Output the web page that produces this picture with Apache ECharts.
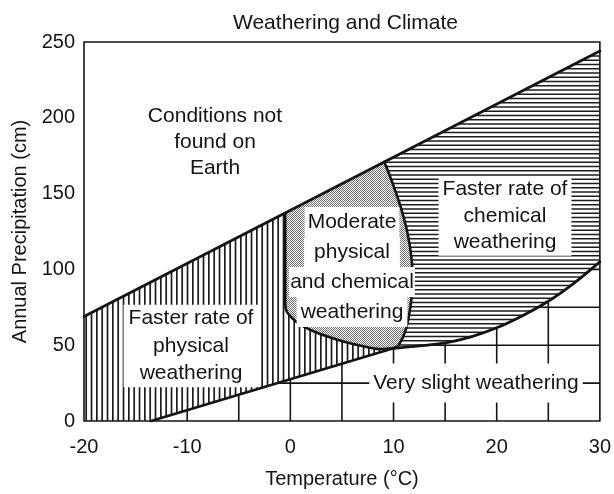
<!DOCTYPE html>
<html>
<head>
<meta charset="utf-8">
<script src="https://cdn.jsdelivr.net/npm/echarts@6/dist/echarts.min.js"></script>
<style>
  html, body { margin: 0; padding: 0; background: #fff; }
  #chart { width: 614px; height: 494px; }
</style>
</head>
<body>
<div id="chart"></div>
<script>
// Weathering regimes as a function of temperature (°C) and annual precipitation (cm)

const xTicks = [-20, -10, 0, 10, 20, 30];
const yTicks = [0, 50, 100, 150, 200, 250];

// Upper limit of climates found on Earth (a straight line)
const upperLimit = [[-20, 69], [30, 244]];
// Lower limit of appreciable weathering: straight segment, then a rising curve
const lowerLimit = [[-13.5, 0], [10, 48], [12.5, 49.5], [15, 51.5], [17.5, 55.5],
                    [20, 61.5], [22.5, 69.5], [25, 79], [27.5, 91], [30, 105]];
// Left / lower edge of the moderate zone, from the upper limit down to the lower limit
const moderateLeft = [[-0.5, 137], [-0.5, 76], [-0.3, 71.5], [0.65, 65], [2.3, 59],
                      [3.8, 55.3], [5.4, 52], [7.1, 49.3], [8.6, 47.5], [10, 48]];
// Right edge of the moderate zone, from the upper limit down to the lower limit
const moderateRight = [[9.1, 171], [9.9, 157], [10.7, 141], [11.35, 124], [11.75, 107],
                       [11.85, 91], [11.65, 76], [11.2, 60.5], [10.5, 50], [10, 48]];
// Reference grid drawn inside the "very slight weathering" zone
const gridX = [-10, -5, 0, 5, 10, 15, 20, 25];
const gridY = [25, 50, 75, 100];

const FONT = "'Liberation Sans', Arial, Helvetica, sans-serif";
const INK = '#141414';

// ---- fill patterns ----
function makeTile(w, h, draw) {
  const c = document.createElement('canvas');
  c.width = w; c.height = h;
  const g = c.getContext('2d');
  g.fillStyle = '#fff';
  g.fillRect(0, 0, w, h);
  draw(g);
  return c;
}
const vHatch = makeTile(16, 8, g => {
  g.fillStyle = '#1c1c1c';
  [0, 5.33, 10.67].forEach(x => g.fillRect(x, 0, 1.7, 8));
});
const hHatch = makeTile(8, 17, g => {
  g.fillStyle = '#1c1c1c';
  [0, 4.25, 8.5, 12.75].forEach(y => g.fillRect(0, y, 8, 1.5));
});
const stipple = makeTile(2, 2, g => {
  g.fillStyle = '#6e6e6e';
  g.fillRect(0, 0, 1, 1);
  g.fillRect(1, 1, 1, 1);
});

// ---- region outlines built from the boundary arrays ----
const xMin = xTicks[0], xMax = xTicks[xTicks.length - 1];
const yMin = yTicks[0], yMax = yTicks[yTicks.length - 1];

const physicalZone = [[xMin, yMin], upperLimit[0]]
  .concat(moderateLeft)
  .concat([lowerLimit[0]]);
const moderateZone = moderateLeft.concat(moderateRight.slice().reverse());
const chemicalZone = moderateRight
  .concat(lowerLimit.slice(1))
  .concat([upperLimit[1]]);
const barrenZone = [upperLimit[0], upperLimit[1], [xMax, yMax], [xMin, yMax]];

function polygonSeries(points, fill, z) {
  return {
    type: 'custom', coordinateSystem: 'cartesian2d', silent: true, z: z,
    data: [0],
    renderItem: (params, api) => ({
      type: 'polygon',
      shape: { points: points.map(p => api.coord(p)) },
      style: { fill: fill, stroke: null }
    })
  };
}

function lineSeries(points, width, smooth, z) {
  return {
    type: 'line', data: points, showSymbol: false, silent: true, z: z,
    smooth: smooth,
    lineStyle: { color: INK, width: width, cap: 'round', join: 'round' },
    animation: false
  };
}

const gridLines = {
  type: 'custom', coordinateSystem: 'cartesian2d', silent: true, z: 1,
  data: [0],
  renderItem: (params, api) => {
    const children = [];
    gridX.forEach(v => {
      const a = api.coord([v, yMin]), b = api.coord([v, 100]);
      children.push({ type: 'line', shape: { x1: a[0], y1: a[1], x2: b[0], y2: b[1] },
                      style: { stroke: INK, lineWidth: 1.6 } });
    });
    gridY.forEach(v => {
      const a = api.coord([xMin, v]), b = api.coord([xMax, v]);
      children.push({ type: 'line', shape: { x1: a[0], y1: a[1], x2: b[0], y2: b[1] },
                      style: { stroke: INK, lineWidth: 1.6 } });
    });
    return { type: 'group', children: children };
  }
};

const frame = {
  type: 'custom', coordinateSystem: 'cartesian2d', silent: true, z: 6,
  data: [0],
  renderItem: (params, api) => {
    const a = api.coord([xMin, yMax]), b = api.coord([xMax, yMin]);
    return { type: 'rect', shape: { x: a[0], y: a[1], width: b[0] - a[0], height: b[1] - a[1] },
             style: { fill: null, stroke: INK, lineWidth: 1.6 } };
  }
};

function label(x, y, text, extra) {
  return {
    type: 'text', x: x, y: y, z: 20, silent: true,
    style: Object.assign({
      text: text, font: '21px ' + FONT, fill: INK,
      align: 'center', verticalAlign: 'middle',
      textAlign: 'center', textVerticalAlign: 'middle'
    }, extra || {})
  };
}

const chart = echarts.init(document.getElementById('chart'), null, { renderer: 'canvas' });

chart.setOption({
  animation: false,
  backgroundColor: '#fff',
  title: {
    text: 'Weathering and Climate',
    left: 233, top: 13, padding: 0,
    textStyle: { fontFamily: FONT, fontSize: 21, fontWeight: 'normal', color: INK }
  },
  grid: { left: 84, top: 42, width: 523, height: 380, show: false },
  xAxis: {
    type: 'value', min: xMin, max: xMax, interval: 10,
    axisLine: { show: false }, axisTick: { show: false }, splitLine: { show: false },
    axisLabel: { fontFamily: FONT, fontSize: 20, color: INK, margin: 16 },
    name: 'Temperature (°C)', nameLocation: 'middle', nameGap: 48,
    nameTextStyle: { fontFamily: FONT, fontSize: 20, color: INK }
  },
  yAxis: {
    type: 'value', min: yMin, max: yMax, interval: 50,
    axisLine: { show: false }, axisTick: { show: false }, splitLine: { show: false },
    axisLabel: { fontFamily: FONT, fontSize: 20, color: INK, margin: 9 },
    name: 'Annual Precipitation (cm)', nameLocation: 'middle', nameGap: 53,
    nameTextStyle: { fontFamily: FONT, fontSize: 20, color: INK }
  },
  series: [
    gridLines,
    polygonSeries(barrenZone, '#fff', 2),
    polygonSeries(physicalZone, { image: vHatch, repeat: 'repeat' }, 2),
    polygonSeries(chemicalZone, { image: hHatch, repeat: 'repeat' }, 2),
    polygonSeries(moderateZone, { image: stipple, repeat: 'repeat' }, 2),
    lineSeries(upperLimit, 2.8, false, 4),
    lineSeries(lowerLimit.slice(0, 2), 2.8, false, 4),
    lineSeries(lowerLimit.slice(1), 2.8, 0.35, 4),
    lineSeries(moderateLeft.slice(0, 2), 2.6, false, 4),
    lineSeries(moderateLeft.slice(1), 2.6, 0.35, 4),
    lineSeries(moderateRight, 2.6, 0.35, 4),
    frame
  ],
  graphic: [
    label(215, 142, 'Conditions not\nfound on\nEarth', { lineHeight: 26 }),
    label(191, 346, 'Faster rate of\nphysical\nweathering',
          { lineHeight: 27.5, backgroundColor: '#fff', padding: [0, 5] }),
    label(505, 216, 'Faster rate of\nchemical\nweathering',
          { lineHeight: 26.5, backgroundColor: '#fff', padding: [0, 4] }),
    label(476, 383, 'Very slight weathering',
          { lineHeight: 21, backgroundColor: '#fff', padding: [9, 4] }),
    label(352, 222, 'Moderate', { lineHeight: 30, backgroundColor: '#fff', padding: [0, 3] }),
    label(352, 252, 'physical', { lineHeight: 30, backgroundColor: '#fff', padding: [0, 10] }),
    label(352, 282, 'and chemical', { lineHeight: 30, backgroundColor: '#fff', padding: [0, 1] }),
    label(352, 312, 'weathering', { lineHeight: 30, backgroundColor: '#fff', padding: [0, 4] })
  ]
});
</script>
</body>
</html>
